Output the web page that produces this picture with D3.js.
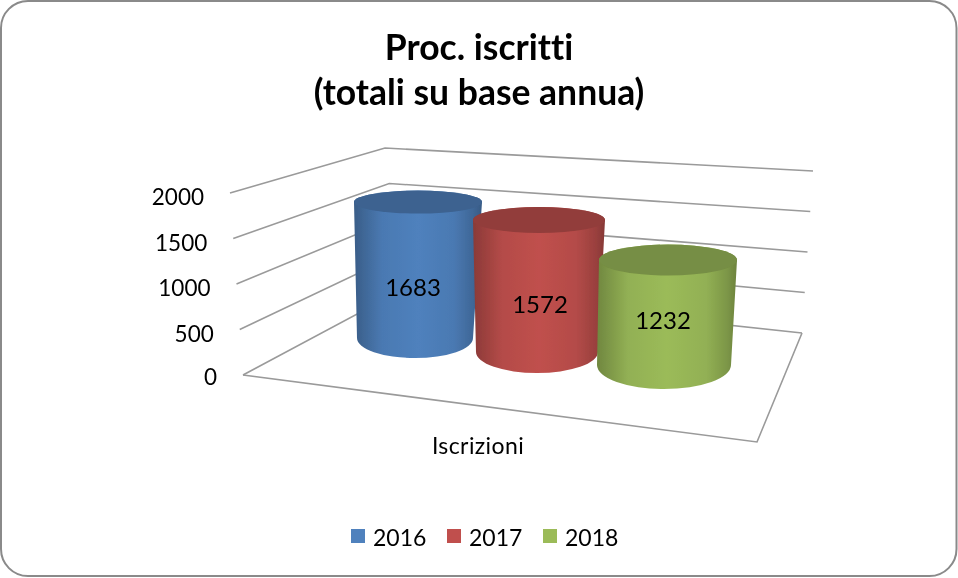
<!DOCTYPE html>
<html><head><meta charset="utf-8">
<script src="https://cdn.jsdelivr.net/npm/d3@7/dist/d3.min.js"></script>
<style>html,body{margin:0;padding:0;background:#fff}svg{display:block}text{font-family:Lato,"Open Sans",sans-serif;fill:#000;font-variant-ligatures:none}</style>
</head><body><svg id="c" width="958" height="578"></svg>
<script>
const titleLines = ["Proc. iscritti", "(totali su base annua)"];
const category = "Iscrizioni";
const years = ["2016", "2017", "2018"];
const values = [1683, 1572, 1232];
const colors = ["#4f81bd", "#c0504d", "#9bbb59"];
const yTicks = [0, 500, 1000, 1500, 2000];

const W = 958, H = 578;
const svg = d3.select("#c");
const defs = svg.append("defs");
const soft = defs.append("filter").attr("id","soft").attr("x","-5%").attr("y","-5%").attr("width","110%").attr("height","110%");
soft.append("feGaussianBlur").attr("stdDeviation",0.55);

// box projection: value -> position along each vertical edge of the 3D wall
const dom = [0, 2000];
const flX = d3.scaleLinear(dom, [243, 230]), flY = d3.scaleLinear(dom, [375, 193]);
const blX = d3.scaleLinear(dom, [402, 385]), blY = d3.scaleLinear(dom, [290, 148]);
const brX = d3.scaleLinear(dom, [802, 813]), brY = d3.scaleLinear(dom, [333, 171]);
const floorFront = [757, 442];
const tickY = d3.scaleLinear([0, 500, 2000], [379, 336.5, 199]);

svg.append("rect").attr("x",1).attr("y",1).attr("width",W-2.5).attr("height",H-3)
  .attr("rx",27).attr("fill","#fff").attr("stroke","#8a8a8a").attr("stroke-width",2);

const root = svg.append("g").attr("filter","url(#soft)");

// walls and floor
const line = d3.line();
const grid = root.append("g").attr("fill","none").attr("stroke","#9a9a9a").attr("stroke-width",1.6);
yTicks.forEach(v => grid.append("path").attr("d", line([[flX(v),flY(v)],[blX(v),blY(v)],[brX(v),brY(v)]])));
grid.append("path").attr("d", line([[flX(0),flY(0)],floorFront,[brX(0),brY(0)]]));

// tick labels follow the front-left wall edge
root.append("g").selectAll("text").data(yTicks).join("text")
  .attr("x", d => flX(d) - 26).attr("y", d => tickY(d))
  .attr("text-anchor","end").attr("dominant-baseline","middle")
  .attr("font-size",22.5).text(d => d);

// cylinder perspective, indexed by series position
const pos = d3.scalePoint(years, [0, 2]);
const baseCx = d3.scaleLinear([0,1,2],[415,537,664]);
const baseCy = d3.scaleLinear([0,1,2],[338,352,365]);
const baseRx = d3.scaleLinear([0,1,2],[58,61,67]);
const baseRy = d3.scaleLinear([0,1,2],[20,21,24]);
const topCx  = d3.scaleLinear([0,1,2],[418,539,668]);
const topRx  = d3.scaleLinear([0,1,2],[64,66,69]);
const topRy  = d3.scaleLinear([0,1,2],[11.5,13,15.5]);
const pxPerUnit = d3.scaleLinear([0,1,2],[0.0808,0.0840,0.0852]);
const labelX = d3.scaleLinear([0,1,2],[413,540,663]);
const labelFrac = d3.scaleLinear([0,1,2],[0.645,0.655,0.60]);

years.forEach((yr, i) => {
  const p = pos(yr), c = d3.color(colors[i]);
  const id = "g" + yr;
  const shade = (k) => d3.rgb(c.r*k, c.g*k, c.b*k).formatHex();
  const grad = defs.append("linearGradient").attr("id",id).attr("x1","0").attr("x2","1").attr("y1","0").attr("y2","0");
  [[0,.72],[.06,.78],[.22,.94],[.5,1.0],[.78,.94],[.93,.8],[1,.7]].forEach(([o,k]) =>
    grad.append("stop").attr("offset",o).attr("stop-color",shade(k)));
  const h = values[i] * pxPerUnit(p);
  const by = baseCy(p), ty = by - h;
  const bx = baseCx(p), tx = topCx(p);
  const brx = baseRx(p), bry = baseRy(p), trx = topRx(p), trY = topRy(p);
  const g = root.append("g");
  g.append("path")
    .attr("d", `M${tx-trx},${ty} L${bx-brx},${by} A${brx},${bry} 0 0 0 ${bx+brx},${by} L${tx+trx},${ty} A${trx},${trY} 0 0 0 ${tx-trx},${ty} Z`)
    .attr("fill", `url(#${id})`);
  g.append("ellipse").attr("cx",tx).attr("cy",ty).attr("rx",trx).attr("ry",trY).attr("fill",shade(.76));
  g.append("text").attr("x", labelX(p)).attr("y", ty + h*labelFrac(p))
    .attr("text-anchor","middle").attr("dominant-baseline","middle")
    .attr("font-size",24).text(values[i]);
});

// title
root.append("g").selectAll("text").data(titleLines).join("text")
  .attr("x",479).attr("y",(d,i) => 60 + i*45)
  .attr("text-anchor","middle").attr("font-weight",700).attr("font-size",35.5).text(d => d);

// category label
root.append("text").attr("x",478).attr("y",454).attr("text-anchor","middle").attr("font-size",23).attr("letter-spacing",0.4).text(category);

// legend
const legX = d3.scalePoint(years, [351, 543]);
const leg = root.append("g").selectAll("g").data(years).join("g")
  .attr("transform", d => `translate(${legX(d)},529)`);
leg.append("rect").attr("width",14).attr("height",14).attr("fill",(d,i)=>colors[i]);
leg.append("text").attr("x",22).attr("y",16.5).attr("font-size",23).text(d=>d);
</script></body></html>
